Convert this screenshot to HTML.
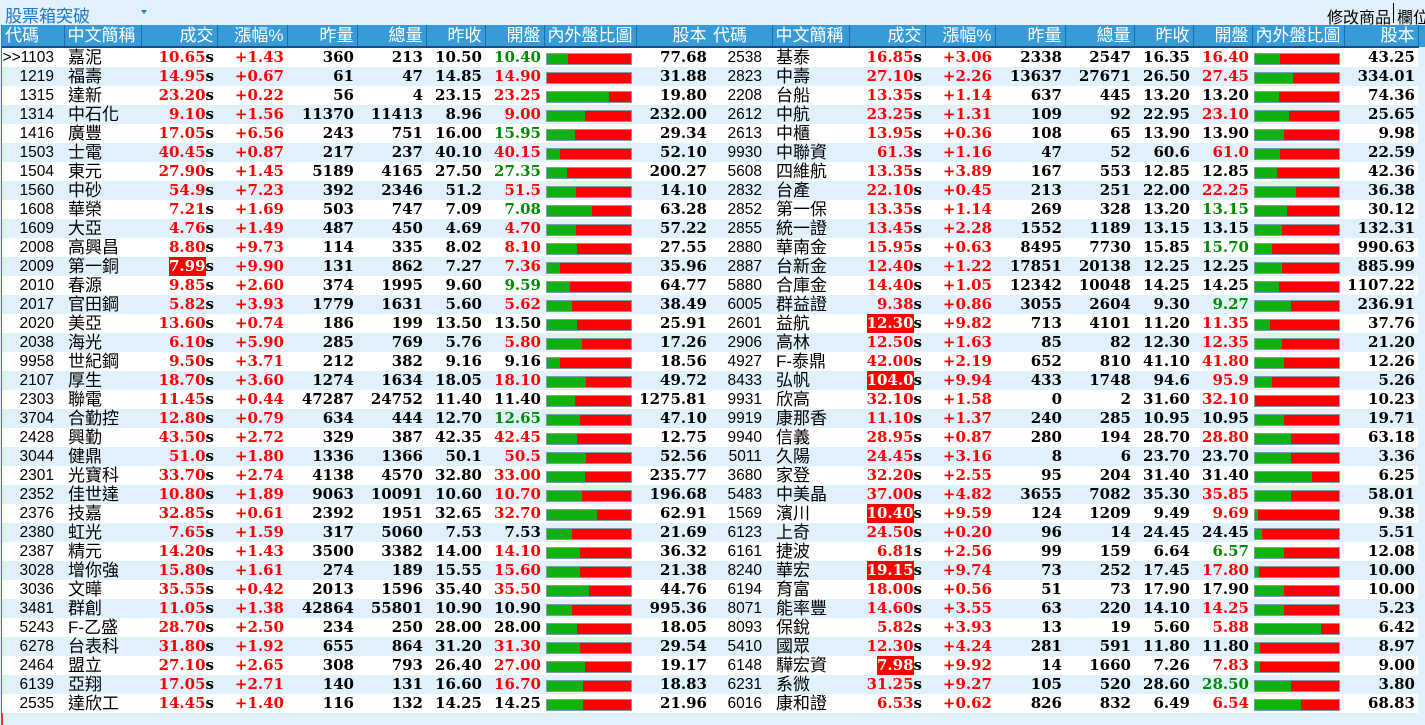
<!DOCTYPE html>
<html><head><meta charset="utf-8">
<style>
*{margin:0;padding:0;box-sizing:border-box}
body{width:1425px;height:725px;background:#e1f1fb;overflow:hidden;position:relative;font-family:"Liberation Sans","Noto Sans CJK TC",sans-serif}
#top{position:absolute;left:0;top:0;width:1425px;height:25px;background:#e1f1fb}
#ttl{position:absolute;left:5px;top:2px;font-size:17px;color:#1f78c8;white-space:nowrap}
#arr{position:absolute;left:141px;top:10px;width:0;height:0;border-left:3px solid transparent;border-right:3px solid transparent;border-top:4px solid #1f78c8}
#mod{position:absolute;left:1327px;top:4px;font-size:16px;color:#000;white-space:nowrap}
#sep{position:absolute;left:1393px;top:3px;width:1px;height:20px;background:#000}
#col{position:absolute;left:1397px;top:4px;font-size:16px;color:#000;white-space:nowrap}
#redl{position:absolute;left:1px;top:25px;width:2px;height:700px;background:#e33}
table{position:absolute;top:25px;border-collapse:collapse;table-layout:fixed;width:708px}
th{height:22px;line-height:20px;background:#379bd8;color:#fff;font-weight:normal;font-size:17px;text-align:right;padding-right:3px;border-right:1px solid #1d6fa8;border-bottom:2px solid #13508a;white-space:nowrap;overflow:hidden;font-family:"Liberation Sans","Noto Sans CJK TC",sans-serif}
th.l{text-align:left;padding-left:3px}
td{height:19px;line-height:19px;font-family:"DejaVu Serif",serif;font-weight:bold;font-size:15px;text-align:right;padding-right:3px;white-space:nowrap;overflow:hidden;color:#000}
tr:nth-child(even) td{background:#fff}
tr:nth-child(odd) td{background:#e1f1fb}
td.c{font-family:"Liberation Sans",sans-serif;font-weight:normal;font-size:15.5px;padding-right:10px}
td.n{font-family:"Liberation Sans","Noto Sans CJK TC",sans-serif;font-weight:normal;font-size:17px;text-align:left;padding-left:4px}
td.p{color:#f00}
td.p i{font-style:normal;color:#000}
td.p span{display:inline-block;background:#f00;color:#fff;line-height:19px}
.r{color:#f00}
.g{color:#008a00}
td.b{padding:0 0 0 2px;text-align:left}
td.b div{width:86px;height:12px;margin-top:3px;background:#f00;border:1px solid #7e9bb0;position:relative}
td.b div b{position:absolute;left:0;top:0;height:10px;background:#10b010}
#sb{position:absolute;left:1419px;top:25px;width:6px;height:22px;background:#379bd8}
</style></head><body>
<div id="top"><div id="ttl">股票箱突破</div><div id="arr"></div><div id="mod">修改商品</div><div id="sep"></div><div id="col">欄位</div></div>
<div id="redl"></div>
<table style="left:2px">
<colgroup><col style="width:62px"><col style="width:77px"><col style="width:76px"><col style="width:70px"><col style="width:70px"><col style="width:69px"><col style="width:59px"><col style="width:59px"><col style="width:92px"><col style="width:74px"></colgroup>
<tr><th class="l">代碼</th><th class="l">中文簡稱</th><th>成交</th><th>漲幅%</th><th>昨量</th><th>總量</th><th>昨收</th><th>開盤</th><th class="l">內外盤比圖</th><th>股本</th></tr>
<tr><td class="c">&gt;&gt;1103</td><td class="n">嘉泥</td><td class="p">10.65<i>s</i></td><td class="r">+1.43</td><td>360</td><td>213</td><td>10.50</td><td class="g">10.40</td><td class="b"><div><b style="width:25%"></b></div></td><td>77.68</td></tr>
<tr><td class="c">1219</td><td class="n">福壽</td><td class="p">14.95<i>s</i></td><td class="r">+0.67</td><td>61</td><td>47</td><td>14.85</td><td class="r">14.90</td><td class="b"><div><b style="width:0%"></b></div></td><td>31.88</td></tr>
<tr><td class="c">1315</td><td class="n">達新</td><td class="p">23.20<i>s</i></td><td class="r">+0.22</td><td>56</td><td>4</td><td>23.15</td><td class="r">23.25</td><td class="b"><div><b style="width:74%"></b></div></td><td>19.80</td></tr>
<tr><td class="c">1314</td><td class="n">中石化</td><td class="p">9.10<i>s</i></td><td class="r">+1.56</td><td>11370</td><td>11413</td><td>8.96</td><td class="r">9.00</td><td class="b"><div><b style="width:45%"></b></div></td><td>232.00</td></tr>
<tr><td class="c">1416</td><td class="n">廣豐</td><td class="p">17.05<i>s</i></td><td class="r">+6.56</td><td>243</td><td>751</td><td>16.00</td><td class="g">15.95</td><td class="b"><div><b style="width:33%"></b></div></td><td>29.34</td></tr>
<tr><td class="c">1503</td><td class="n">士電</td><td class="p">40.45<i>s</i></td><td class="r">+0.87</td><td>217</td><td>237</td><td>40.10</td><td class="r">40.15</td><td class="b"><div><b style="width:15%"></b></div></td><td>52.10</td></tr>
<tr><td class="c">1504</td><td class="n">東元</td><td class="p">27.90<i>s</i></td><td class="r">+1.45</td><td>5189</td><td>4165</td><td>27.50</td><td class="g">27.35</td><td class="b"><div><b style="width:24%"></b></div></td><td>200.27</td></tr>
<tr><td class="c">1560</td><td class="n">中砂</td><td class="p">54.9<i>s</i></td><td class="r">+7.23</td><td>392</td><td>2346</td><td>51.2</td><td class="r">51.5</td><td class="b"><div><b style="width:35%"></b></div></td><td>14.10</td></tr>
<tr><td class="c">1608</td><td class="n">華榮</td><td class="p">7.21<i>s</i></td><td class="r">+1.69</td><td>503</td><td>747</td><td>7.09</td><td class="g">7.08</td><td class="b"><div><b style="width:53%"></b></div></td><td>63.28</td></tr>
<tr><td class="c">1609</td><td class="n">大亞</td><td class="p">4.76<i>s</i></td><td class="r">+1.49</td><td>487</td><td>450</td><td>4.69</td><td class="r">4.70</td><td class="b"><div><b style="width:35%"></b></div></td><td>57.22</td></tr>
<tr><td class="c">2008</td><td class="n">高興昌</td><td class="p">8.80<i>s</i></td><td class="r">+9.73</td><td>114</td><td>335</td><td>8.02</td><td class="r">8.10</td><td class="b"><div><b style="width:36%"></b></div></td><td>27.55</td></tr>
<tr><td class="c">2009</td><td class="n">第一銅</td><td class="p"><span>7.99</span><i>s</i></td><td class="r">+9.90</td><td>131</td><td>862</td><td>7.27</td><td class="r">7.36</td><td class="b"><div><b style="width:15%"></b></div></td><td>35.96</td></tr>
<tr><td class="c">2010</td><td class="n">春源</td><td class="p">9.85<i>s</i></td><td class="r">+2.60</td><td>374</td><td>1995</td><td>9.60</td><td class="g">9.59</td><td class="b"><div><b style="width:27%"></b></div></td><td>64.77</td></tr>
<tr><td class="c">2017</td><td class="n">官田鋼</td><td class="p">5.82<i>s</i></td><td class="r">+3.93</td><td>1779</td><td>1631</td><td>5.60</td><td class="r">5.62</td><td class="b"><div><b style="width:30%"></b></div></td><td>38.49</td></tr>
<tr><td class="c">2020</td><td class="n">美亞</td><td class="p">13.60<i>s</i></td><td class="r">+0.74</td><td>186</td><td>199</td><td>13.50</td><td>13.50</td><td class="b"><div><b style="width:36%"></b></div></td><td>25.91</td></tr>
<tr><td class="c">2038</td><td class="n">海光</td><td class="p">6.10<i>s</i></td><td class="r">+5.90</td><td>285</td><td>769</td><td>5.76</td><td class="r">5.80</td><td class="b"><div><b style="width:42%"></b></div></td><td>17.26</td></tr>
<tr><td class="c">9958</td><td class="n">世紀鋼</td><td class="p">9.50<i>s</i></td><td class="r">+3.71</td><td>212</td><td>382</td><td>9.16</td><td>9.16</td><td class="b"><div><b style="width:16%"></b></div></td><td>18.56</td></tr>
<tr><td class="c">2107</td><td class="n">厚生</td><td class="p">18.70<i>s</i></td><td class="r">+3.60</td><td>1274</td><td>1634</td><td>18.05</td><td class="r">18.10</td><td class="b"><div><b style="width:47%"></b></div></td><td>49.72</td></tr>
<tr><td class="c">2303</td><td class="n">聯電</td><td class="p">11.45<i>s</i></td><td class="r">+0.44</td><td>47287</td><td>24752</td><td>11.40</td><td>11.40</td><td class="b"><div><b style="width:33%"></b></div></td><td>1275.81</td></tr>
<tr><td class="c">3704</td><td class="n">合勤控</td><td class="p">12.80<i>s</i></td><td class="r">+0.79</td><td>634</td><td>444</td><td>12.70</td><td class="g">12.65</td><td class="b"><div><b style="width:39%"></b></div></td><td>47.10</td></tr>
<tr><td class="c">2428</td><td class="n">興勤</td><td class="p">43.50<i>s</i></td><td class="r">+2.72</td><td>329</td><td>387</td><td>42.35</td><td class="r">42.45</td><td class="b"><div><b style="width:36%"></b></div></td><td>12.75</td></tr>
<tr><td class="c">3044</td><td class="n">健鼎</td><td class="p">51.0<i>s</i></td><td class="r">+1.80</td><td>1336</td><td>1366</td><td>50.1</td><td class="r">50.5</td><td class="b"><div><b style="width:47%"></b></div></td><td>52.56</td></tr>
<tr><td class="c">2301</td><td class="n">光寶科</td><td class="p">33.70<i>s</i></td><td class="r">+2.74</td><td>4138</td><td>4570</td><td>32.80</td><td class="r">33.00</td><td class="b"><div><b style="width:45%"></b></div></td><td>235.77</td></tr>
<tr><td class="c">2352</td><td class="n">佳世達</td><td class="p">10.80<i>s</i></td><td class="r">+1.89</td><td>9063</td><td>10091</td><td>10.60</td><td class="r">10.70</td><td class="b"><div><b style="width:42%"></b></div></td><td>196.68</td></tr>
<tr><td class="c">2376</td><td class="n">技嘉</td><td class="p">32.85<i>s</i></td><td class="r">+0.61</td><td>2392</td><td>1951</td><td>32.65</td><td class="r">32.70</td><td class="b"><div><b style="width:59%"></b></div></td><td>62.91</td></tr>
<tr><td class="c">2380</td><td class="n">虹光</td><td class="p">7.65<i>s</i></td><td class="r">+1.59</td><td>317</td><td>5060</td><td>7.53</td><td>7.53</td><td class="b"><div><b style="width:30%"></b></div></td><td>21.69</td></tr>
<tr><td class="c">2387</td><td class="n">精元</td><td class="p">14.20<i>s</i></td><td class="r">+1.43</td><td>3500</td><td>3382</td><td>14.00</td><td class="r">14.10</td><td class="b"><div><b style="width:39%"></b></div></td><td>36.32</td></tr>
<tr><td class="c">3028</td><td class="n">增你強</td><td class="p">15.80<i>s</i></td><td class="r">+1.61</td><td>274</td><td>189</td><td>15.55</td><td class="r">15.60</td><td class="b"><div><b style="width:39%"></b></div></td><td>21.38</td></tr>
<tr><td class="c">3036</td><td class="n">文曄</td><td class="p">35.55<i>s</i></td><td class="r">+0.42</td><td>2013</td><td>1596</td><td>35.40</td><td class="r">35.50</td><td class="b"><div><b style="width:50%"></b></div></td><td>44.76</td></tr>
<tr><td class="c">3481</td><td class="n">群創</td><td class="p">11.05<i>s</i></td><td class="r">+1.38</td><td>42864</td><td>55801</td><td>10.90</td><td>10.90</td><td class="b"><div><b style="width:30%"></b></div></td><td>995.36</td></tr>
<tr><td class="c">5243</td><td class="n">F-乙盛</td><td class="p">28.70<i>s</i></td><td class="r">+2.50</td><td>234</td><td>250</td><td>28.00</td><td>28.00</td><td class="b"><div><b style="width:36%"></b></div></td><td>18.05</td></tr>
<tr><td class="c">6278</td><td class="n">台表科</td><td class="p">31.80<i>s</i></td><td class="r">+1.92</td><td>655</td><td>864</td><td>31.20</td><td class="r">31.30</td><td class="b"><div><b style="width:39%"></b></div></td><td>29.54</td></tr>
<tr><td class="c">2464</td><td class="n">盟立</td><td class="p">27.10<i>s</i></td><td class="r">+2.65</td><td>308</td><td>793</td><td>26.40</td><td class="r">27.00</td><td class="b"><div><b style="width:45%"></b></div></td><td>19.17</td></tr>
<tr><td class="c">6139</td><td class="n">亞翔</td><td class="p">17.05<i>s</i></td><td class="r">+2.71</td><td>140</td><td>131</td><td>16.60</td><td class="r">16.70</td><td class="b"><div><b style="width:43%"></b></div></td><td>18.83</td></tr>
<tr><td class="c">2535</td><td class="n">達欣工</td><td class="p">14.45<i>s</i></td><td class="r">+1.40</td><td>116</td><td>132</td><td>14.25</td><td>14.25</td><td class="b"><div><b style="width:43%"></b></div></td><td>21.96</td></tr>
</table>
<table style="left:710px">
<colgroup><col style="width:62px"><col style="width:77px"><col style="width:76px"><col style="width:70px"><col style="width:70px"><col style="width:69px"><col style="width:59px"><col style="width:59px"><col style="width:92px"><col style="width:74px"></colgroup>
<tr><th class="l">代碼</th><th class="l">中文簡稱</th><th>成交</th><th>漲幅%</th><th>昨量</th><th>總量</th><th>昨收</th><th>開盤</th><th class="l">內外盤比圖</th><th>股本</th></tr>
<tr><td class="c">2538</td><td class="n">基泰</td><td class="p">16.85<i>s</i></td><td class="r">+3.06</td><td>2338</td><td>2547</td><td>16.35</td><td class="r">16.40</td><td class="b"><div><b style="width:30%"></b></div></td><td>43.25</td></tr>
<tr><td class="c">2823</td><td class="n">中壽</td><td class="p">27.10<i>s</i></td><td class="r">+2.26</td><td>13637</td><td>27671</td><td>26.50</td><td class="r">27.45</td><td class="b"><div><b style="width:45%"></b></div></td><td>334.01</td></tr>
<tr><td class="c">2208</td><td class="n">台船</td><td class="p">13.35<i>s</i></td><td class="r">+1.14</td><td>637</td><td>445</td><td>13.20</td><td>13.20</td><td class="b"><div><b style="width:28%"></b></div></td><td>74.36</td></tr>
<tr><td class="c">2612</td><td class="n">中航</td><td class="p">23.25<i>s</i></td><td class="r">+1.31</td><td>109</td><td>92</td><td>22.95</td><td class="r">23.10</td><td class="b"><div><b style="width:40%"></b></div></td><td>25.65</td></tr>
<tr><td class="c">2613</td><td class="n">中櫃</td><td class="p">13.95<i>s</i></td><td class="r">+0.36</td><td>108</td><td>65</td><td>13.90</td><td>13.90</td><td class="b"><div><b style="width:35%"></b></div></td><td>9.98</td></tr>
<tr><td class="c">9930</td><td class="n">中聯資</td><td class="p">61.3<i>s</i></td><td class="r">+1.16</td><td>47</td><td>52</td><td>60.6</td><td class="r">61.0</td><td class="b"><div><b style="width:30%"></b></div></td><td>22.59</td></tr>
<tr><td class="c">5608</td><td class="n">四維航</td><td class="p">13.35<i>s</i></td><td class="r">+3.89</td><td>167</td><td>553</td><td>12.85</td><td>12.85</td><td class="b"><div><b style="width:26%"></b></div></td><td>42.36</td></tr>
<tr><td class="c">2832</td><td class="n">台產</td><td class="p">22.10<i>s</i></td><td class="r">+0.45</td><td>213</td><td>251</td><td>22.00</td><td class="r">22.25</td><td class="b"><div><b style="width:49%"></b></div></td><td>36.38</td></tr>
<tr><td class="c">2852</td><td class="n">第一保</td><td class="p">13.35<i>s</i></td><td class="r">+1.14</td><td>269</td><td>328</td><td>13.20</td><td class="g">13.15</td><td class="b"><div><b style="width:38%"></b></div></td><td>30.12</td></tr>
<tr><td class="c">2855</td><td class="n">統一證</td><td class="p">13.45<i>s</i></td><td class="r">+2.28</td><td>1552</td><td>1189</td><td>13.15</td><td>13.15</td><td class="b"><div><b style="width:32%"></b></div></td><td>132.31</td></tr>
<tr><td class="c">2880</td><td class="n">華南金</td><td class="p">15.95<i>s</i></td><td class="r">+0.63</td><td>8495</td><td>7730</td><td>15.85</td><td class="g">15.70</td><td class="b"><div><b style="width:20%"></b></div></td><td>990.63</td></tr>
<tr><td class="c">2887</td><td class="n">台新金</td><td class="p">12.40<i>s</i></td><td class="r">+1.22</td><td>17851</td><td>20138</td><td>12.25</td><td>12.25</td><td class="b"><div><b style="width:32%"></b></div></td><td>885.99</td></tr>
<tr><td class="c">5880</td><td class="n">合庫金</td><td class="p">14.40<i>s</i></td><td class="r">+1.05</td><td>12342</td><td>10048</td><td>14.25</td><td>14.25</td><td class="b"><div><b style="width:28%"></b></div></td><td>1107.22</td></tr>
<tr><td class="c">6005</td><td class="n">群益證</td><td class="p">9.38<i>s</i></td><td class="r">+0.86</td><td>3055</td><td>2604</td><td>9.30</td><td class="g">9.27</td><td class="b"><div><b style="width:43%"></b></div></td><td>236.91</td></tr>
<tr><td class="c">2601</td><td class="n">益航</td><td class="p"><span>12.30</span><i>s</i></td><td class="r">+9.82</td><td>713</td><td>4101</td><td>11.20</td><td class="r">11.35</td><td class="b"><div><b style="width:18%"></b></div></td><td>37.76</td></tr>
<tr><td class="c">2906</td><td class="n">高林</td><td class="p">12.50<i>s</i></td><td class="r">+1.63</td><td>85</td><td>82</td><td>12.30</td><td class="r">12.35</td><td class="b"><div><b style="width:32%"></b></div></td><td>21.20</td></tr>
<tr><td class="c">4927</td><td class="n">F-泰鼎</td><td class="p">42.00<i>s</i></td><td class="r">+2.19</td><td>652</td><td>810</td><td>41.10</td><td class="r">41.80</td><td class="b"><div><b style="width:35%"></b></div></td><td>12.26</td></tr>
<tr><td class="c">8433</td><td class="n">弘帆</td><td class="p"><span>104.0</span><i>s</i></td><td class="r">+9.94</td><td>433</td><td>1748</td><td>94.6</td><td class="r">95.9</td><td class="b"><div><b style="width:20%"></b></div></td><td>5.26</td></tr>
<tr><td class="c">9931</td><td class="n">欣高</td><td class="p">32.10<i>s</i></td><td class="r">+1.58</td><td>0</td><td>2</td><td>31.60</td><td class="r">32.10</td><td class="b"><div><b style="width:0%"></b></div></td><td>10.23</td></tr>
<tr><td class="c">9919</td><td class="n">康那香</td><td class="p">11.10<i>s</i></td><td class="r">+1.37</td><td>240</td><td>285</td><td>10.95</td><td>10.95</td><td class="b"><div><b style="width:35%"></b></div></td><td>19.71</td></tr>
<tr><td class="c">9940</td><td class="n">信義</td><td class="p">28.95<i>s</i></td><td class="r">+0.87</td><td>280</td><td>194</td><td>28.70</td><td class="r">28.80</td><td class="b"><div><b style="width:43%"></b></div></td><td>63.18</td></tr>
<tr><td class="c">5011</td><td class="n">久陽</td><td class="p">24.45<i>s</i></td><td class="r">+3.16</td><td>8</td><td>6</td><td>23.70</td><td>23.70</td><td class="b"><div><b style="width:43%"></b></div></td><td>3.36</td></tr>
<tr><td class="c">3680</td><td class="n">家登</td><td class="p">32.20<i>s</i></td><td class="r">+2.55</td><td>95</td><td>204</td><td>31.40</td><td>31.40</td><td class="b"><div><b style="width:68%"></b></div></td><td>6.25</td></tr>
<tr><td class="c">5483</td><td class="n">中美晶</td><td class="p">37.00<i>s</i></td><td class="r">+4.82</td><td>3655</td><td>7082</td><td>35.30</td><td class="r">35.85</td><td class="b"><div><b style="width:43%"></b></div></td><td>58.01</td></tr>
<tr><td class="c">1569</td><td class="n">濱川</td><td class="p"><span>10.40</span><i>s</i></td><td class="r">+9.59</td><td>124</td><td>1209</td><td>9.49</td><td class="r">9.69</td><td class="b"><div><b style="width:3%"></b></div></td><td>9.38</td></tr>
<tr><td class="c">6123</td><td class="n">上奇</td><td class="p">24.50<i>s</i></td><td class="r">+0.20</td><td>96</td><td>14</td><td>24.45</td><td>24.45</td><td class="b"><div><b style="width:8%"></b></div></td><td>5.51</td></tr>
<tr><td class="c">6161</td><td class="n">捷波</td><td class="p">6.81<i>s</i></td><td class="r">+2.56</td><td>99</td><td>159</td><td>6.64</td><td class="g">6.57</td><td class="b"><div><b style="width:35%"></b></div></td><td>12.08</td></tr>
<tr><td class="c">8240</td><td class="n">華宏</td><td class="p"><span>19.15</span><i>s</i></td><td class="r">+9.74</td><td>73</td><td>252</td><td>17.45</td><td class="r">17.80</td><td class="b"><div><b style="width:5%"></b></div></td><td>10.00</td></tr>
<tr><td class="c">6194</td><td class="n">育富</td><td class="p">18.00<i>s</i></td><td class="r">+0.56</td><td>51</td><td>73</td><td>17.90</td><td>17.90</td><td class="b"><div><b style="width:34%"></b></div></td><td>10.00</td></tr>
<tr><td class="c">8071</td><td class="n">能率豐</td><td class="p">14.60<i>s</i></td><td class="r">+3.55</td><td>63</td><td>220</td><td>14.10</td><td class="r">14.25</td><td class="b"><div><b style="width:35%"></b></div></td><td>5.23</td></tr>
<tr><td class="c">8093</td><td class="n">保銳</td><td class="p">5.82<i>s</i></td><td class="r">+3.93</td><td>13</td><td>19</td><td>5.60</td><td class="r">5.88</td><td class="b"><div><b style="width:78%"></b></div></td><td>6.42</td></tr>
<tr><td class="c">5410</td><td class="n">國眾</td><td class="p">12.30<i>s</i></td><td class="r">+4.24</td><td>281</td><td>591</td><td>11.80</td><td>11.80</td><td class="b"><div><b style="width:6%"></b></div></td><td>8.97</td></tr>
<tr><td class="c">6148</td><td class="n">驊宏資</td><td class="p"><span>7.98</span><i>s</i></td><td class="r">+9.92</td><td>14</td><td>1660</td><td>7.26</td><td class="r">7.83</td><td class="b"><div><b style="width:6%"></b></div></td><td>9.00</td></tr>
<tr><td class="c">6231</td><td class="n">系微</td><td class="p">31.25<i>s</i></td><td class="r">+9.27</td><td>105</td><td>520</td><td>28.60</td><td class="g">28.50</td><td class="b"><div><b style="width:43%"></b></div></td><td>3.80</td></tr>
<tr><td class="c">6016</td><td class="n">康和證</td><td class="p">6.53<i>s</i></td><td class="r">+0.62</td><td>826</td><td>832</td><td>6.49</td><td class="r">6.54</td><td class="b"><div><b style="width:55%"></b></div></td><td>68.83</td></tr>
</table>
<div id="sb"></div>
</body></html>
